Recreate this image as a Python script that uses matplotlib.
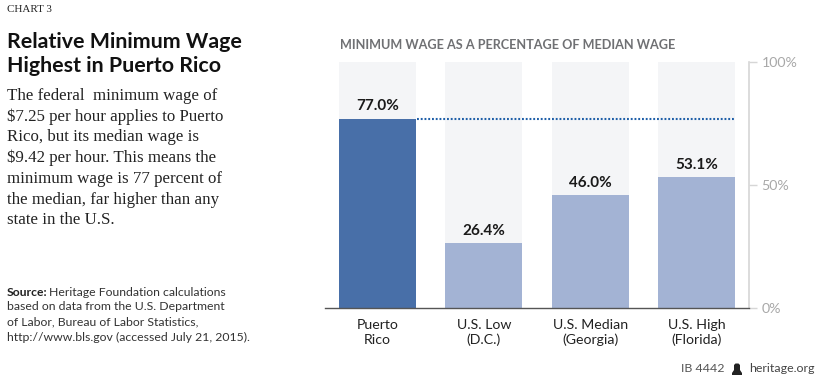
import matplotlib
matplotlib.use("Agg")
import matplotlib.pyplot as plt
from matplotlib.patches import Polygon

categories = ["Puerto\nRico", "U.S. Low\n(D.C.)", "U.S. Median\n(Georgia)", "U.S. High\n(Florida)"]
values = [77.0, 26.4, 46.0, 53.1]
labels = ["77.0%", "26.4%", "46.0%", "53.1%"]
ticks = [0, 50, 100]
tick_labels = ["0%", "50%", "100%"]
bar_colors = ["#486fa8", "#a3b3d4", "#a3b3d4", "#a3b3d4"]
body = ["The federal  minimum wage of", "$7.25 per hour applies to Puerto", "Rico, but its median wage is",
        "$9.42 per hour. This means the", "minimum wage is 77 percent of", "the median, far higher than any", "state in the U.S."]
source = ["based on data from the U.S. Department", "of Labor, Bureau of Labor Statistics,",
          "http://www.bls.gov (accessed July 21, 2015)."]
SANS = "Lato"

W, H = 825, 380
fig = plt.figure(figsize=(W / 100, H / 100), dpi=100)
fig.patch.set_facecolor("white")

def fx(x): return x / W
def fy(y): return 1 - y / H
def T(x, y, s, **k):
    k.setdefault("va", "center")
    return fig.text(fx(x), fy(y), s, **k)

L, R, TOP, BOT = 325, 749, 62, 308
ax = fig.add_axes([fx(L), fy(BOT), (R - L) / W, (BOT - TOP) / H])
ax.set_ylim(0, 100)
sp = 106.4
x0 = 377.5
ax.set_xlim((L - x0) / sp, (R - x0) / sp)
pos = list(range(len(values)))
bw = 77 / sp
ax.bar(pos, [100] * 4, width=bw, color="#f4f5f7", zorder=1)
ax.bar(pos, values, width=bw, color=bar_colors, zorder=2)
ax.plot([0 + bw / 2 + 0.01, 3 + bw / 2], [values[0]] * 2, color="#1f5fa8", lw=1.5,
        linestyle=(0, (0.9, 0.9)), zorder=3)
for p, v, l in zip(pos, values, labels):
    ax.text(p, v + 2.1, l, ha="center", va="bottom", fontsize=11, family=SANS,
            color="#1a1a1a", fontweight="bold", zorder=4)
ax.patch.set_alpha(0)
for s in ["top", "left"]:
    ax.spines[s].set_visible(False)
ax.spines["right"].set_color("#d6d6d6")
ax.spines["right"].set_linewidth(1.2)
ax.spines["bottom"].set_color("#555555")
ax.spines["bottom"].set_linewidth(1.0)
ax.yaxis.tick_right()
ax.set_yticks(ticks)
ax.set_yticklabels(tick_labels, fontsize=10.2, family=SANS, color="#a8a8a8")
ax.tick_params(axis="y", length=6, width=1, color="#d6d6d6", pad=3)
ax.set_xticks(pos)
ax.set_xticklabels(categories, fontsize=10.2, family=SANS, color="#222222", linespacing=1.25)
ax.tick_params(axis="x", length=0, pad=8)

T(7, 10, "CHART 3", fontsize=7.9, family="Liberation Serif", color="#222222")
T(7, 42, "Relative Minimum Wage", fontsize=15.4, family=SANS, fontweight="bold", color="#111111")
T(7, 66, "Highest in Puerto Rico", fontsize=15.4, family=SANS, fontweight="bold", color="#111111")
for i, line in enumerate(body):
    T(7, 96 + i * 20.7, line, fontsize=12.2, family="Liberation Serif", color="#222222")
T(7, 292, "Source:", fontsize=8.7, family=SANS, fontweight="bold", color="#222222")
T(49, 292, "Heritage Foundation calculations", fontsize=8.8, family=SANS, color="#333333")
for i, line in enumerate(source):
    T(7, 307 + i * 15.3, line, fontsize=8.8, family=SANS, color="#333333")
T(340, 45, "MINIMUM WAGE AS A PERCENTAGE OF MEDIAN WAGE", fontsize=9.1, family=SANS,
  fontweight="bold", color="#6f7073")
T(681, 369, "IB 4442", fontsize=8.9, family=SANS, color="#555555")
T(749, 369, "heritage.org", fontsize=8.9, family=SANS, color="#444444")
bell = [(732, 375), (742, 375), (742, 373), (740, 370), (740, 365), (738.5, 363.5), (735.5, 363.5), (734, 365), (734, 370), (732, 373)]
fig.add_artist(Polygon([(fx(a), fy(b)) for a, b in bell], closed=True, transform=fig.transFigure,
                       facecolor="#222222", edgecolor="none"))
fig.savefig("out.png", dpi=100)
